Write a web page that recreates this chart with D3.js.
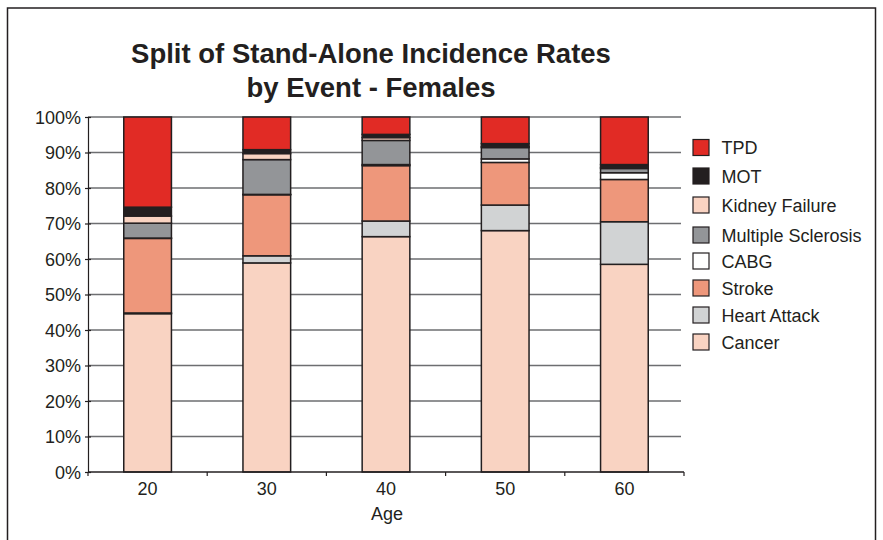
<!DOCTYPE html>
<html>
<head>
<meta charset="utf-8">
<script src="https://cdn.jsdelivr.net/npm/d3@7"></script>
<style>
  html, body { margin: 0; padding: 0; background: #fff; }
  svg { display: block; font-family: "Liberation Sans", Arial, sans-serif; }
</style>
</head>
<body>
<svg id="chart" width="883" height="540"></svg>
<script>
// Age groups along the x axis
const ages = ["20", "30", "40", "50", "60"];

// Share of each event (percent), stacked bottom to top
const cancer            = [44.6, 58.9, 66.3, 68.0, 58.5];
const heartAttack       = [0.2, 2.0, 4.4, 7.2, 12.0];
const stroke            = [21.0, 17.2, 15.6, 12.0, 11.9];
const cabg              = [0.1, 0.1, 0.3, 1.0, 1.9];
const multipleSclerosis = [4.2, 9.8, 6.8, 3.2, 1.2];
const kidneyFailure     = [2.0, 1.7, 0.8, 0.3, 0.3];
const mot               = [2.5, 1.1, 0.9, 0.8, 0.8];
const tpd               = [25.4, 9.2, 4.9, 7.5, 13.4];

const seriesNames = ["Cancer", "Heart Attack", "Stroke", "CABG", "Multiple Sclerosis", "Kidney Failure", "MOT", "TPD"];
const seriesValues = [cancer, heartAttack, stroke, cabg, multipleSclerosis, kidneyFailure, mot, tpd];
const seriesColors = ["#F9D3C2", "#D1D3D4", "#EE977B", "#FFFFFF", "#939598", "#F9D3C2", "#231F20", "#E12B25"];

const yTicks = [0, 10, 20, 30, 40, 50, 60, 70, 80, 90, 100];

const rows = ages.map((a, i) => {
  const r = { age: a };
  seriesNames.forEach((n, k) => { r[n] = seriesValues[k][i]; });
  return r;
});

const ink = "#231F20";
const svg = d3.select("#chart");

// Outer frame
svg.append("rect")
  .attr("x", 7.5).attr("y", 8)
  .attr("width", 868).attr("height", 560)
  .attr("fill", "none").attr("stroke", ink).attr("stroke-width", 1.5);

const plot = { left: 88, right: 684, top: 117, bottom: 472 };

const x = d3.scaleBand().domain(ages).range([plot.left, plot.right]).paddingInner(0.6).paddingOuter(0.3);
const y = d3.scaleLinear().domain([0, 100]).range([plot.bottom, plot.top]);

// Title
const title = svg.append("text")
  .attr("text-anchor", "middle")
  .attr("font-weight", "bold")
  .attr("font-size", 27.5)
  .attr("fill", ink);
title.append("tspan").attr("x", 371).attr("y", 63).text("Split of Stand-Alone Incidence Rates");
title.append("tspan").attr("x", 371).attr("y", 97).text("by Event - Females");

// Horizontal gridlines
svg.append("g")
  .selectAll("line")
  .data(yTicks.filter(t => t > 0))
  .join("line")
  .attr("x1", plot.left).attr("x2", plot.right - 3)
  .attr("y1", d => y(d)).attr("y2", d => y(d))
  .attr("stroke", "#6D6E71").attr("stroke-width", 1.5);

// Y axis
const yAxis = svg.append("g")
  .attr("transform", `translate(${plot.left},0)`)
  .call(d3.axisLeft(y).tickValues(yTicks).tickFormat(d => d + "%").tickSize(3).tickSizeOuter(0));
yAxis.select(".domain").attr("stroke", ink).attr("stroke-width", 1.2);
yAxis.selectAll(".tick line").attr("x1", -3).attr("x2", 3).attr("stroke", ink).attr("stroke-width", 1.2);
yAxis.selectAll(".tick text")
  .attr("font-size", 18).attr("fill", ink).attr("x", -7).attr("dy", "0.34em")
  .attr("font-family", "Liberation Sans, Arial, sans-serif");

// Stacked bars
const stack = d3.stack().keys(seriesNames);
const layers = stack(rows);

svg.append("g")
  .selectAll("g")
  .data(layers)
  .join("g")
  .attr("fill", (d, i) => seriesColors[i])
  .selectAll("rect")
  .data(d => d)
  .join("rect")
  .attr("x", d => x(d.data.age))
  .attr("width", x.bandwidth())
  .attr("y", d => y(d[1]))
  .attr("height", d => y(d[0]) - y(d[1]))
  .attr("stroke", ink)
  .attr("stroke-width", 1.5);

// X axis with ticks at band boundaries
const xAxisG = svg.append("g").attr("transform", `translate(0,${plot.bottom})`);
xAxisG.append("line")
  .attr("x1", plot.left).attr("x2", plot.right)
  .attr("stroke", ink).attr("stroke-width", 1.5);
const boundaries = d3.range(ages.length + 1).map(i => plot.left + i * x.step() - (i === 0 ? 0 : 0));
xAxisG.selectAll("line.tick")
  .data(boundaries)
  .join("line")
  .attr("class", "tick")
  .attr("x1", d => d).attr("x2", d => d)
  .attr("y1", 0).attr("y2", 4)
  .attr("stroke", ink).attr("stroke-width", 1.2);
xAxisG.selectAll("text")
  .data(ages)
  .join("text")
  .attr("x", d => x(d) + x.bandwidth() / 2)
  .attr("y", 23)
  .attr("text-anchor", "middle")
  .attr("font-size", 18)
  .attr("fill", ink)
  .text(d => d);

svg.append("text")
  .attr("x", 387)
  .attr("y", 520)
  .attr("text-anchor", "middle")
  .attr("font-size", 18)
  .attr("fill", ink)
  .text("Age");

// Legend (top to bottom: TPD first)
const legendItems = seriesNames.map((n, i) => ({ name: n, color: seriesColors[i] })).reverse();
const legendY = [147.5, 176, 205, 235, 261, 288, 315, 342];
const legend = svg.append("g");
const li = legend.selectAll("g")
  .data(legendItems)
  .join("g")
  .attr("transform", (d, i) => `translate(693,${legendY[i]})`);
li.append("rect")
  .attr("x", 0).attr("y", -8)
  .attr("width", 16).attr("height", 16)
  .attr("fill", d => d.color)
  .attr("stroke", ink).attr("stroke-width", 1.2);
li.append("text")
  .attr("x", 28.5).attr("y", 6.5)
  .attr("font-size", 18)
  .attr("fill", ink)
  .text(d => d.name);
</script>
</body>
</html>
